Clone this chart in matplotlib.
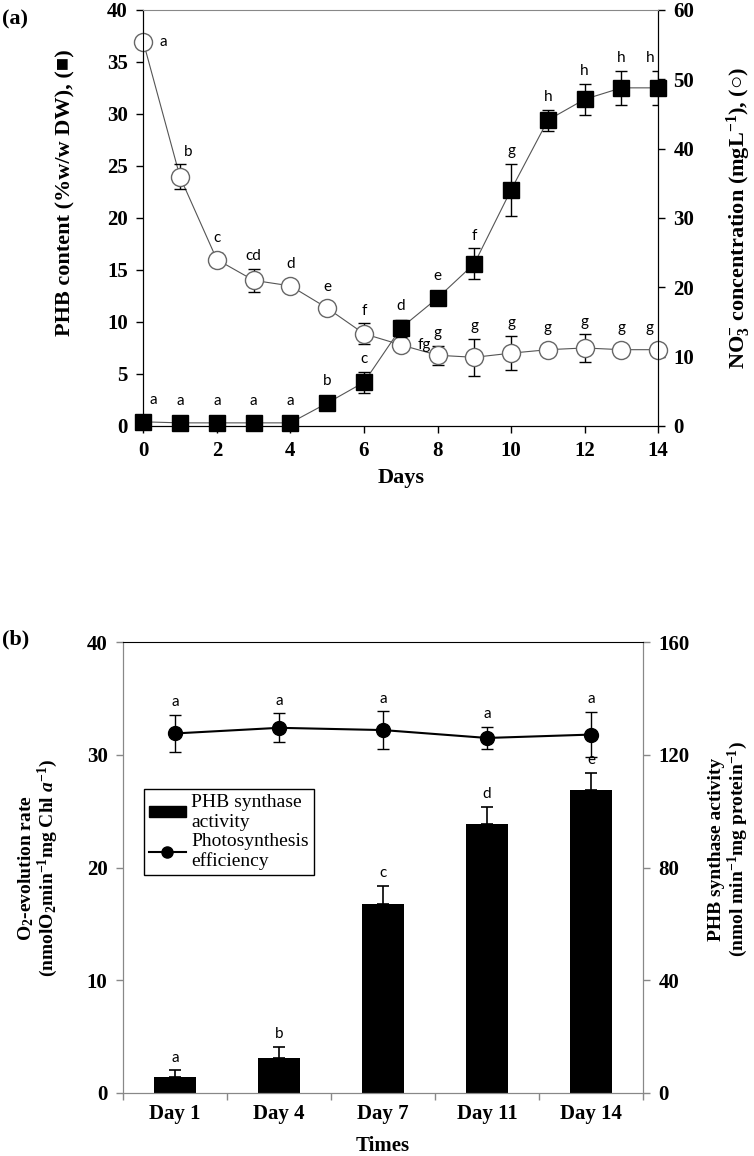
import matplotlib
matplotlib.use("Agg")
import matplotlib.pyplot as plt
from matplotlib.patches import Patch
from matplotlib.lines import Line2D

plt.rcParams['font.family'] = ['Liberation Serif', 'DejaVu Serif']
plt.rcParams['mathtext.fontset'] = 'custom'
plt.rcParams['mathtext.rm'] = 'Liberation Serif:bold'
plt.rcParams['mathtext.it'] = 'Liberation Serif:bold:italic'
plt.rcParams['mathtext.bf'] = 'Liberation Serif:bold'

# ---- panel (a) data ----
days = list(range(15))
phb = [0.4, 0.3, 0.3, 0.3, 0.3, 2.2, 4.2, 9.4, 12.3, 15.6, 22.7, 29.4, 31.4, 32.5, 32.5]
phb_err = [0.1, 0.1, 0.1, 0.1, 0.1, 0.2, 1.0, 0.8, 0.3, 1.5, 2.5, 1.0, 1.5, 1.65, 1.65]
phb_letters = ['a', 'a', 'a', 'a', 'a', 'b', 'c', 'd', 'e', 'f', 'g', 'h', 'h', 'h', 'h']

no3 = [55.4, 35.9, 24.0, 21.0, 20.2, 17.0, 13.3, 11.7, 10.2, 9.9, 10.5, 11.0, 11.25, 11.0, 11.0]
no3_err = [0, 1.8, 0.9, 1.65, 0, 0.9, 1.5, 0, 1.4, 2.7, 2.5, 0.7, 2.0, 0.5, 0.6]
no3_letters = ['a', 'b', 'c', 'cd', 'd', 'e', 'f', 'fg', 'g', 'g', 'g', 'g', 'g', 'g', 'g']

# ---- panel (b) data ----
times = ['Day 1', 'Day 4', 'Day 7', 'Day 11', 'Day 14']
synthase = [5.6, 12.4, 67.2, 95.6, 107.6]
synthase_err = [2.4, 4.0, 6.4, 6.0, 6.0]
synthase_letters = ['a', 'b', 'c', 'd', 'e']
o2_rate = [31.9, 32.4, 32.2, 31.5, 31.8]
o2_err = [1.65, 1.3, 1.65, 1.0, 2.0]
o2_letters = ['a', 'a', 'a', 'a', 'a']

TICK_FS = 15
LET_FS = 11
LET_FONT = 'Lato'

fig = plt.figure(figsize=(7.54, 11.56), dpi=100)

# ================= (a) =================
axA = fig.add_axes([0.190, 0.6315, 0.683, 0.360])
axA2 = axA.twinx()
axA.set_zorder(axA2.get_zorder() + 1)
axA.patch.set_visible(False)

# NO3 circles (right axis)
axA2.plot(days, no3, color='#555555', lw=0.8, zorder=1)
axA2.errorbar(days, no3, yerr=no3_err, fmt='none', ecolor='black',
              elinewidth=1, capsize=4, capthick=1, zorder=2)
axA2.plot(days, no3, 'o', ms=13, mfc='white', mec='#666666', mew=1,
          zorder=3, clip_on=False)

# PHB squares (left axis)
axA.plot(days, phb, color='#555555', lw=0.8, zorder=1)
axA.errorbar(days, phb, yerr=phb_err, fmt='none', ecolor='black',
             elinewidth=1, capsize=4, capthick=1, zorder=2)
axA.plot(days, phb, 's', ms=11, mfc='black', mec='black', zorder=3, clip_on=False)

axA.set_xlim(0, 14)
axA.set_ylim(0, 40)
axA2.set_ylim(0, 60)
axA.set_xticks(range(0, 15, 2))
axA.set_yticks(range(0, 41, 5))
axA2.set_yticks(range(0, 61, 10))

# letters for PHB squares
for d, v, e, t in zip(days, phb, phb_err, phb_letters):
    dx = 7 if d == 0 else (-6 if d == 14 else 0)
    top = v + max(e, 0.9)
    axA.annotate(t, (d, top), xytext=(dx, 4), textcoords='offset points',
                 ha='center', va='bottom', fontsize=LET_FS, family=LET_FONT)

# letters for NO3 circles
for d, v, e, t in zip(days, no3, no3_err, no3_letters):
    if d in (0, 7):
        axA2.annotate(t, (d, v), xytext=(12, 0), textcoords='offset points',
                      ha='left', va='center', fontsize=LET_FS, family=LET_FONT)
        continue
    dx = -6 if d == 14 else (6 if d == 1 else 0)
    top = v + max(e, 1.3)
    axA2.annotate(t, (d, top), xytext=(dx, 4), textcoords='offset points',
                  ha='center', va='bottom', fontsize=LET_FS, family=LET_FONT)

for ax in (axA, axA2):
    ax.tick_params(direction='out', length=5, width=1, pad=6, labelsize=TICK_FS)
    for lab in ax.get_xticklabels() + ax.get_yticklabels():
        lab.set_fontweight('bold')
axA.spines['top'].set_color('#888888')
axA.spines['top'].set_linewidth(0.8)
axA2.spines['top'].set_visible(False)

axA.set_xlabel('Days', fontsize=16, fontweight='bold')
axA.xaxis.set_label_coords(0.5, -0.1)
axA.set_ylabel('PHB content (%w/w DW), (■)', fontsize=16, fontweight='bold',
               family=['Liberation Serif', 'DejaVu Sans'])
axA.yaxis.set_label_coords(-0.132, 0.56)
axA2.set_ylabel(r'NO$_3^{-}$ concentration (mgL$^{-1}$), (○)', fontsize=16,
                fontweight='bold', family=['Liberation Serif', 'DejaVu Sans'],
                rotation=90)
axA2.yaxis.set_label_coords(1.13, 0.5)

fig.text(0.003, 0.992, '(a)', fontsize=16, fontweight='bold', va='top', ha='left')

# ================= (b) =================
axB = fig.add_axes([0.163, 0.0545, 0.690, 0.390])
axB2 = axB.twinx()
axB.set_zorder(axB2.get_zorder() + 1)
axB.patch.set_visible(False)

x = list(range(len(times)))
axB2.bar(x, synthase, width=0.40, color='black', zorder=2)
axB2.errorbar(x, synthase, yerr=[[0] * len(x), synthase_err], fmt='none',
              ecolor='black', elinewidth=1.2, capsize=4, capthick=1.2, zorder=3)
for i, v, e, t in zip(x, synthase, synthase_err, synthase_letters):
    axB2.annotate(t, (i, v + e), xytext=(0, 4), textcoords='offset points',
                  ha='center', va='bottom', fontsize=LET_FS, family=LET_FONT)

axB.errorbar(x, o2_rate, yerr=o2_err, fmt='none', ecolor='black',
             elinewidth=1, capsize=4, capthick=1, zorder=2)
axB.plot(x, o2_rate, '-o', color='black', lw=1.5, ms=10, zorder=3)
for i, v, e, t in zip(x, o2_rate, o2_err, o2_letters):
    axB.annotate(t, (i, v + e), xytext=(0, 4), textcoords='offset points',
                 ha='center', va='bottom', fontsize=LET_FS, family=LET_FONT)

axB.set_xlim(-0.5, len(times) - 0.5)
axB.set_ylim(0, 40)
axB2.set_ylim(0, 160)
axB.set_yticks(range(0, 41, 10))
axB2.set_yticks(range(0, 161, 40))
axB.set_xticks([i - 0.5 for i in range(len(times) + 1)])
axB.set_xticklabels([])
axB.set_xticks(x, minor=True)
axB.set_xticklabels(times, minor=True)

for ax in (axB, axB2):
    ax.tick_params(which='both', direction='out', length=5, width=1,
                   color='#888888', pad=6, labelsize=TICK_FS)
    for s in ('left', 'right', 'bottom'):
        ax.spines[s].set_color('#888888')
axB.tick_params(axis='x', which='minor', length=0, pad=8)
for lab in (axB.get_yticklabels() + axB2.get_yticklabels()
            + axB.get_xticklabels(minor=True)):
    lab.set_fontweight('bold')
axB.spines['top'].set_color('black')
axB2.spines['top'].set_visible(False)

axB.set_xlabel('Times', fontsize=15, fontweight='bold')
axB.xaxis.set_label_coords(0.5, -0.095)
axB.set_ylabel('O$_2$-evolution rate\n(nmolO$_2$min$^{-1}$mg Chl $a^{-1}$)',
               fontsize=14, fontweight='bold', linespacing=1.0)
axB.yaxis.set_label_coords(-0.121, 0.5)
axB2.set_ylabel('PHB synthase activity\n(nmol min$^{-1}$mg protein$^{-1}$)',
                fontsize=14, fontweight='bold', rotation=90, linespacing=1.0)
axB2.yaxis.set_label_coords(1.125, 0.54)

handles = [Patch(facecolor='black', edgecolor='black'),
           Line2D([], [], color='black', marker='o', ms=8, lw=1.5)]
leg = axB.legend(handles, ['PHB synthase\nactivity', 'Photosynthesis\nefficiency'],
                 loc='upper left', bbox_to_anchor=(0.04, 0.674), fontsize=14,
                 frameon=True, fancybox=False, edgecolor='black', framealpha=1,
                 handlelength=1.9, handleheight=0.5, borderpad=0.25,
                 labelspacing=0.1, handletextpad=0.3, borderaxespad=0)
leg.get_frame().set_linewidth(1)

fig.text(0.003, 0.4464, '(b)', fontsize=16, fontweight='bold', va='center', ha='left')

fig.savefig('out.png', dpi=100)
